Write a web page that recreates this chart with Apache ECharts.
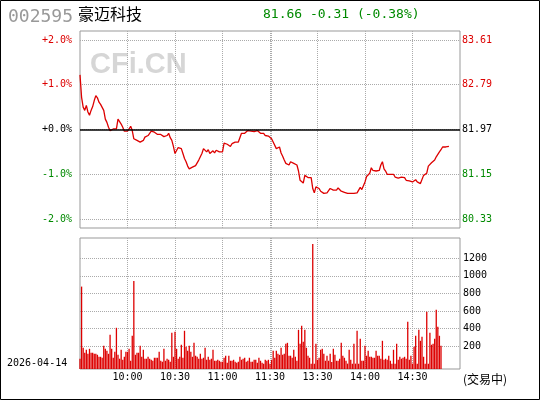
<!DOCTYPE html>
<html>
<head>
<meta charset="utf-8">
<script src="https://cdn.jsdelivr.net/npm/echarts@6/dist/echarts.min.js"></script>
<style>
  html, body { margin: 0; padding: 0; background: #fff; }
  #chart { width: 540px; height: 400px; }
</style>
</head>
<body>
<div id="chart"></div>
<script>
const stockCode = '002595'
const stockName = '豪迈科技'
const tradeDate = '2026-04-14'
const prevClose = 81.97

// minute prices, 9:30 - 11:30
const priceAM = [
  82.97, 82.56, 82.38, 82.32, 82.41, 82.29, 82.23, 82.32, 82.39, 82.50,
  82.59, 82.55, 82.47, 82.43, 82.41, 82.32, 82.16, 82.10, 82.01, 81.95,
  81.92, 81.98, 81.96, 81.98, 82.16, 82.13, 82.07, 82.01, 81.94, 81.94,
  81.94, 81.98, 82.03, 81.95, 81.80, 81.77, 81.77, 81.75, 81.74, 81.72,
  81.77, 81.83, 81.84, 81.86, 81.89, 81.94, 81.95, 81.92, 81.89, 81.88,
  81.86, 81.88, 81.86, 81.84, 81.81, 81.86, 81.90, 81.82, 81.77, 81.66,
  81.53, 81.51, 81.64, 81.66, 81.62, 81.53, 81.44, 81.38, 81.30, 81.25,
  81.25, 81.28, 81.30, 81.31, 81.34, 81.41, 81.47, 81.53, 81.62, 81.59,
  81.56, 81.60, 81.53, 81.56, 81.58, 81.54, 81.59, 81.56, 81.56, 81.58,
  81.56, 81.72, 81.74, 81.70, 81.68, 81.66, 81.71, 81.73, 81.74, 81.76,
  81.74, 81.77, 81.90, 81.90, 81.90, 81.90, 81.95, 81.94, 81.94, 81.92,
  81.93, 81.94, 81.95, 81.94, 81.90, 81.92, 81.90, 81.86, 81.85, 81.85,
  81.87
]
// minute prices, 13:01 - now
const pricePM = [
  81.80, 81.74, 81.73, 81.62, 81.60, 81.65, 81.54, 81.48, 81.41, 81.35,
  81.33, 81.32, 81.38, 81.36, 81.35, 81.36, 81.32, 81.21, 81.04, 81.07,
  80.99, 81.13, 81.11, 81.09, 81.09, 81.09, 80.89, 80.81, 80.92, 80.93,
  80.89, 80.84, 80.83, 80.80, 80.81, 80.81, 80.84, 80.89, 80.91, 80.86,
  80.86, 80.86, 80.90, 80.91, 80.84, 80.81, 80.82, 80.81, 80.80, 80.80,
  80.80, 80.80, 80.80, 80.80, 80.81, 80.86, 80.91, 80.87, 80.87, 81.01,
  81.11, 81.13, 81.17, 81.27, 81.22, 81.22, 81.21, 81.21, 81.22, 81.32,
  81.38, 81.25, 81.21, 81.15, 81.15, 81.15, 81.15, 81.15, 81.10, 81.09,
  81.08, 81.09, 81.10, 81.11, 81.09, 81.04, 81.03, 81.03, 81.00, 81.01,
  81.04, 81.05, 81.01, 80.98, 80.98, 80.99, 81.13, 81.16, 81.17, 81.30,
  81.32, 81.36, 81.39, 81.41, 81.47, 81.50, 81.56, 81.60, 81.65, 81.65,
  81.65, 81.65, 81.66
]
// minute volumes
const volAM = [
  56, 877, 181, 124, 158, 112, 169, 124, 124, 112,
  112, 101, 78, 78, 67, 203, 169, 147, 112, 328,
  169, 67, 135, 408, 101, 56, 158, 44, 78, 135,
  135, 169, 33, 317, 942, 101, 124, 124, 203, 78,
  158, 56, 56, 78, 56, 44, 33, 67, 67, 67,
  135, 33, 22, 169, 33, 56, 44, 22, 351, 78,
  362, 169, 56, 78, 215, 67, 374, 192, 147, 203,
  135, 78, 237, 90, 78, 56, 112, 56, 67, 181,
  44, 78, 44, 56, 158, 33, 33, 44, 33, 22,
  22, 67, 90, 10, 90, 33, 33, 44, 22, 10,
  22, 78, 44, 56, 67, 22, 33, 67, 22, 22,
  44, 44, 10, 67, 33, 10, 0, 44, 33, 44,
  0
]
const volPM = [
  44, 147, 67, 147, 112, 100, 181, 101, 112, 226,
  237, 90, 90, 67, 158, 78, 33, 385, 226, 430,
  249, 385, 181, 90, 67, 0, 1362, 0, 226, 44,
  67, 158, 169, 112, 33, 90, 33, 112, 20, 169,
  101, 33, 33, 56, 237, 90, 67, 33, 0, 158,
  44, 0, 226, 0, 374, 0, 283, 33, 33, 203,
  90, 147, 78, 78, 67, 67, 147, 90, 90, 56,
  260, 44, 56, 44, 90, 33, 0, 158, 0, 226,
  44, 78, 56, 67, 78, 56, 476, 44, 90, 0,
  192, 317, 0, 385, 260, 305, 78, 0, 590, 0,
  351, 215, 226, 283, 612, 419, 317, 203
]

const timeLabels = ['10:00', '10:30', '11:00', '11:30', '13:30', '14:00', '14:30']
const gridTimes = ['10:00', '10:30', '11:00', '11:30', '13:01', '13:30', '14:00', '14:30']
const pctTicks = [-2, -1, 0, 1, 2]
const volTicks = [200, 400, 600, 800, 1000, 1200]

function pad(n) { return n < 10 ? '0' + n : '' + n }
const times = []
for (let m = 9 * 60 + 30; m <= 11 * 60 + 30; m++) times.push(pad(Math.floor(m / 60)) + ':' + pad(m % 60))
for (let m = 13 * 60 + 1; m <= 15 * 60; m++) times.push(pad(Math.floor(m / 60)) + ':' + pad(m % 60))

const prices = priceAM.concat(pricePM)
const vols = volAM.concat(volPM)
const priceTicks = pctTicks.map(k => prevClose * (1 + k / 100))

const RED = '#dd0000'
const GREEN = '#008a00'
const MONO = 'DejaVu Sans Mono'
const CJK = 'Noto Sans CJK SC'

function tickColor(v) {
  v = Number(v)
  if (v > prevClose + 1e-6) return RED
  if (v < prevClose - 1e-6) return GREEN
  return '#000'
}

const last = prices[prices.length - 1]
const chg = last - prevClose
const chgPct = chg / prevClose * 100
const sign = chg > 0 ? '+' : ''
const quoteText = last.toFixed(2) + ' ' + sign + chg.toFixed(2) + ' (' + sign + chgPct.toFixed(2) + '%)'

const chart = echarts.init(document.getElementById('chart'))
const option = {
  animation: false,
  backgroundColor: '#fff',
  graphic: [
    { type: 'rect', shape: { x: 0.5, y: 0.5, width: 539, height: 399 }, style: { fill: 'none', stroke: '#000', lineWidth: 1 } },
    { type: 'text', x: 8, y: 17, style: { text: stockCode, font: '18px ' + MONO, fill: '#999', verticalAlign: 'middle' } },
    { type: 'text', x: 78, y: 14, style: { text: stockName, font: '16px ' + CJK, fill: '#000', verticalAlign: 'middle' } },
    { type: 'text', x: 263, y: 15, style: { text: quoteText, font: '13px ' + MONO, fill: chg < 0 ? GREEN : RED, verticalAlign: 'middle' } },
    { type: 'text', x: 90, y: 65, z: 0, style: { text: 'CFi.CN', font: 'bold 29px Liberation Sans', fill: '#d6d6d6', verticalAlign: 'middle' } },
    { type: 'text', x: 7, y: 363, style: { text: tradeDate, font: '10px ' + MONO, fill: '#000', verticalAlign: 'middle' } },
    { type: 'text', x: 463, y: 379, style: { text: '(交易中)', font: '12px ' + CJK, fill: '#000', verticalAlign: 'middle' } }
  ],
  grid: [
    { left: 80, top: 31, width: 380, height: 197, show: true, borderColor: '#999', borderWidth: 1 },
    { left: 80, top: 238, width: 380, height: 131, show: true, borderColor: '#999', borderWidth: 1 }
  ],
  xAxis: [
    {
      type: 'category',
      gridIndex: 0,
      data: times,
      boundaryGap: false,
      axisLine: { show: false },
      axisTick: { show: false },
      axisLabel: { show: false },
      splitLine: {
        show: true,
        interval: (i, v) => gridTimes.includes(v),
        lineStyle: { type: 'dotted', color: '#aaa' }
      }
    },
    {
      type: 'category',
      gridIndex: 1,
      data: times,
      boundaryGap: false,
      axisLine: { show: false },
      axisTick: { show: false },
      axisLabel: {
        interval: (i, v) => timeLabels.includes(v),
        margin: 3,
        color: '#000',
        fontFamily: MONO,
        fontSize: 10
      },
      splitLine: {
        show: true,
        interval: (i, v) => gridTimes.includes(v),
        lineStyle: { type: 'dotted', color: '#aaa' }
      }
    }
  ],
  yAxis: [
    {
      type: 'value',
      gridIndex: 0,
      position: 'left',
      min: prevClose * (1 - 0.022),
      max: prevClose * (1 + 0.022),
      axisLine: { show: false },
      axisTick: { show: false, customValues: priceTicks },
      axisLabel: {
        customValues: priceTicks,
        margin: 8,
        fontFamily: MONO,
        fontSize: 10,
        color: tickColor,
        formatter: v => {
          const p = Math.round((v / prevClose - 1) * 1000) / 10
          return (p >= 0 ? '+' : '') + p.toFixed(1) + '%'
        }
      },
      splitLine: { show: true, lineStyle: { type: 'dotted', color: '#aaa' } }
    },
    {
      type: 'value',
      gridIndex: 0,
      position: 'right',
      min: prevClose * (1 - 0.022),
      max: prevClose * (1 + 0.022),
      axisLine: { show: false },
      axisTick: { show: false, customValues: priceTicks },
      axisLabel: {
        customValues: priceTicks,
        margin: 2,
        fontFamily: MONO,
        fontSize: 10,
        color: tickColor,
        formatter: v => v.toFixed(2)
      },
      splitLine: { show: false }
    },
    {
      type: 'value',
      gridIndex: 1,
      position: 'right',
      min: -61,
      max: 1430,
      startValue: -61,
      axisLine: { show: false },
      axisTick: { show: false, customValues: volTicks },
      axisLabel: {
        customValues: volTicks,
        margin: 3,
        fontFamily: MONO,
        fontSize: 10,
        color: '#000',
        formatter: v => String(v)
      },
      splitLine: { show: true, lineStyle: { type: 'dotted', color: '#aaa' } }
    }
  ],
  series: [
    {
      name: 'price',
      type: 'line',
      xAxisIndex: 0,
      yAxisIndex: 0,
      data: prices,
      showSymbol: false,
      lineStyle: { color: RED, width: 1.3 },
      itemStyle: { color: RED },
      markLine: {
        silent: true,
        symbol: ['none', 'none'],
        label: { show: false },
        lineStyle: { color: '#000', type: 'solid', width: 1.5 },
        data: [{ yAxis: prevClose }]
      }
    },
    {
      name: 'volume',
      type: 'bar',
      xAxisIndex: 1,
      yAxisIndex: 2,
      data: vols,
      barWidth: 1.3,
      itemStyle: { color: RED }
    }
  ]
}
chart.setOption(option)
</script>
</body>
</html>
